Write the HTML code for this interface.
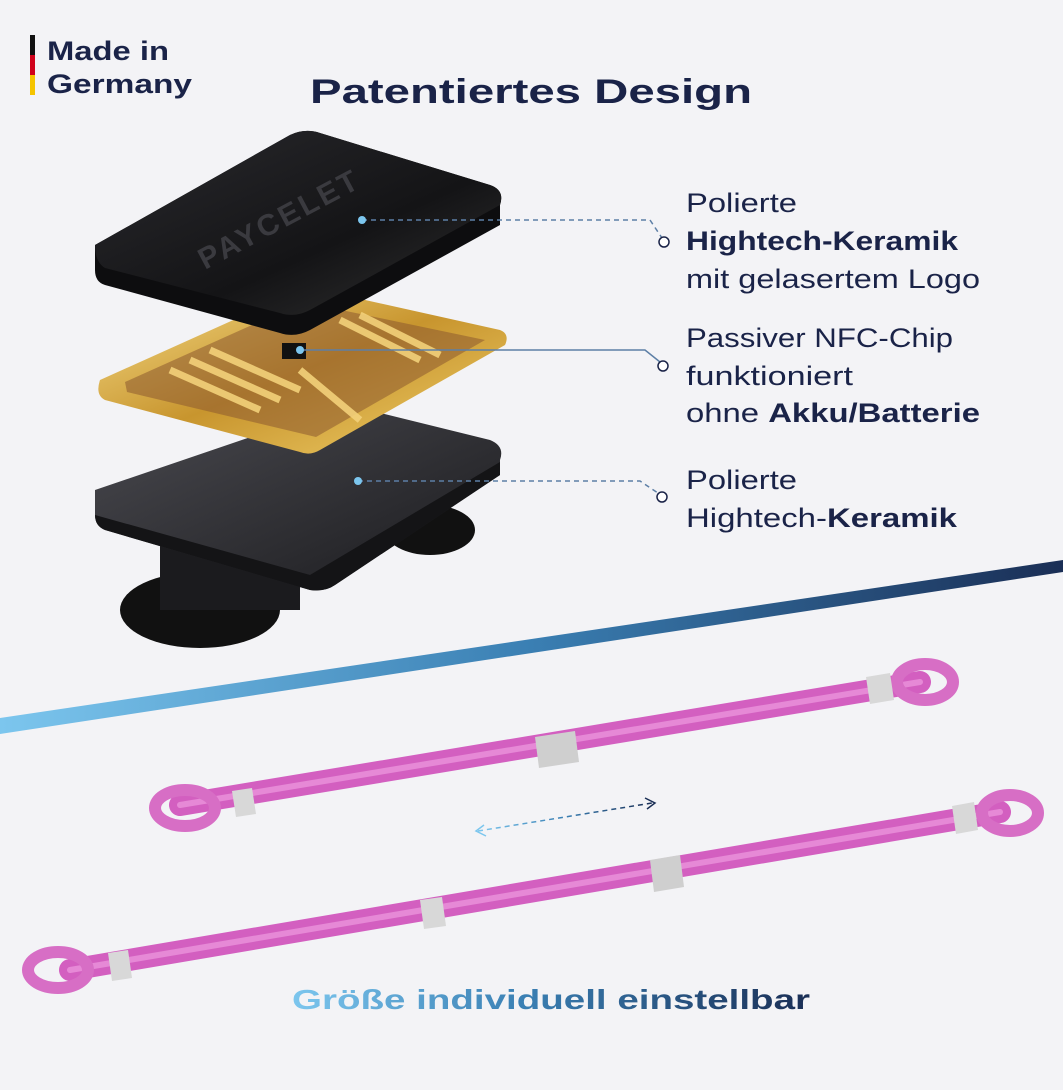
<!DOCTYPE html>
<html><head><meta charset="utf-8"><style>
html,body{margin:0;padding:0;background:#f3f3f6;}
svg{display:block;}
text{font-family:"Liberation Sans","DejaVu Sans",sans-serif;}
</style></head><body>
<svg width="1063" height="1090" viewBox="0 0 1063 1090" xmlns="http://www.w3.org/2000/svg">
<defs>
<linearGradient id="dl" x1="0" y1="0" x2="1" y2="0">
<stop offset="0" stop-color="#7cc6ee"/><stop offset="0.5" stop-color="#3a7fb3"/><stop offset="1" stop-color="#1a2e55"/></linearGradient>
<linearGradient id="gold" x1="0" y1="0" x2="1" y2="1">
<stop offset="0" stop-color="#f6dd8a"/><stop offset="0.5" stop-color="#c8952e"/><stop offset="1" stop-color="#f0cf6a"/></linearGradient>
<linearGradient id="top" x1="0" y1="0" x2="1" y2="1">
<stop offset="0" stop-color="#2a2a2e"/><stop offset="0.6" stop-color="#141416"/><stop offset="1" stop-color="#333"/></linearGradient>
<linearGradient id="bot" x1="0" y1="0" x2="1" y2="1">
<stop offset="0" stop-color="#4a4a50"/><stop offset="1" stop-color="#1a1a1d"/></linearGradient>
<linearGradient id="tx" x1="0" y1="0" x2="1" y2="0">
<stop offset="0" stop-color="#7cc6ee"/><stop offset="0.45" stop-color="#3a7fb3"/><stop offset="1" stop-color="#1a2e55"/></linearGradient>
</defs>
<rect width="1063" height="1090" fill="#f3f3f6"/>
<polygon points="0,718 1063,560 1063,572 0,734" fill="url(#dl)"/>

<rect x="30" y="35" width="5" height="20" fill="#111"/>
<rect x="30" y="55" width="5" height="20" fill="#d0021b"/>
<rect x="30" y="75" width="5" height="20" fill="#f5c400"/>
<text x="47" y="60" font-size="27" font-weight="bold" fill="#1a2348" textLength="122" lengthAdjust="spacingAndGlyphs">Made in</text>
<text x="47" y="93" font-size="27" font-weight="bold" fill="#1a2348" textLength="145" lengthAdjust="spacingAndGlyphs">Germany</text>

<text x="310" y="103" font-size="34" font-weight="bold" fill="#1a2348" textLength="442" lengthAdjust="spacingAndGlyphs">Patentiertes Design</text>

<ellipse cx="200" cy="610" rx="80" ry="38" fill="#111"/>
<ellipse cx="430" cy="530" rx="45" ry="25" fill="#111"/>
<rect x="160" y="520" width="140" height="90" fill="#1b1b1e"/>
<path d="M95,490 L330,410 Q345,405 360,408 L490,440 Q505,446 500,460 L500,475 L335,585 Q325,592 310,590 L105,530 Q95,526 95,515 Z" fill="url(#bot)"/>
<path d="M95,515 L310,575 L500,462 L500,475 L335,585 Q325,592 310,590 L105,530 Q95,526 95,515 Z" fill="#141416"/>

<path d="M100,380 L300,290 Q310,286 320,290 L500,330 Q510,334 505,345 L320,450 Q310,456 300,452 L105,400 Q95,395 100,380 Z" fill="url(#gold)"/>
<path d="M125,382 L303,302 L485,340 L316,437 L127,392 Z" fill="#8c5a30" opacity="0.55"/>
<g stroke="#f3d17a" stroke-width="7" opacity="0.9">
<line x1="170" y1="370" x2="260" y2="410"/><line x1="190" y1="360" x2="280" y2="400"/>
<line x1="210" y1="350" x2="300" y2="390"/><line x1="340" y1="320" x2="420" y2="360"/>
<line x1="360" y1="315" x2="440" y2="355"/><line x1="300" y1="370" x2="360" y2="420"/>
</g>
<rect x="282" y="343" width="24" height="16" fill="#111"/>

<path d="M95,245 L290,135 Q305,128 320,133 L490,185 Q505,190 500,205 L500,225 L310,330 Q295,338 280,333 L105,285 Q95,282 95,270 Z" fill="#0d0d0f"/>
<path d="M95,245 L290,135 Q305,128 320,133 L490,185 Q505,190 500,205 L310,310 Q295,318 280,313 L105,268 Q95,262 95,245 Z" fill="url(#top)"/>
<text x="205" y="270" font-size="30" font-weight="bold" fill="#3a3a3f" transform="rotate(-28 205 270)" letter-spacing="3">PAYCELET</text>

<g fill="none" stroke="#5d7fa6" stroke-width="1.5">
<path d="M362,220 L650,220 L662,238" stroke-dasharray="5,4"/>
<path d="M300,350 L645,350 L660,362"/>
<path d="M358,481 L640,481 L658,493" stroke-dasharray="5,4"/>
</g>
<circle cx="362" cy="220" r="4" fill="#7cc6ee"/>
<circle cx="300" cy="350" r="4" fill="#7cc6ee"/>
<circle cx="358" cy="481" r="4" fill="#7cc6ee"/>
<g fill="#fff" stroke="#1a2348" stroke-width="1.5">
<circle cx="664" cy="242" r="5"/><circle cx="663" cy="366" r="5"/><circle cx="662" cy="497" r="5"/>
</g>

<g font-size="27" fill="#1a2348" lengthAdjust="spacingAndGlyphs">
<text x="686" y="212" textLength="111" lengthAdjust="spacingAndGlyphs">Polierte</text>
<text x="686" y="250" font-weight="bold" textLength="272" lengthAdjust="spacingAndGlyphs">Hightech-Keramik</text>
<text x="686" y="288" textLength="294" lengthAdjust="spacingAndGlyphs">mit gelasertem Logo</text>
<text x="686" y="347" textLength="267" lengthAdjust="spacingAndGlyphs">Passiver NFC-Chip</text>
<text x="686" y="385" textLength="167" lengthAdjust="spacingAndGlyphs">funktioniert</text>
<text x="686" y="422" textLength="294" lengthAdjust="spacingAndGlyphs">ohne <tspan font-weight="bold">Akku/Batterie</tspan></text>
<text x="686" y="489" textLength="111" lengthAdjust="spacingAndGlyphs">Polierte</text>
<text x="686" y="527" textLength="271" lengthAdjust="spacingAndGlyphs">Hightech-<tspan font-weight="bold">Keramik</tspan></text>
</g>

<g fill="none" stroke-linecap="round">
<path d="M180,805 L920,682" stroke="#d35fc0" stroke-width="22"/>
<path d="M180,805 L920,682" stroke="#e689d6" stroke-width="6"/>
<ellipse cx="185" cy="808" rx="30" ry="18" stroke="#d76ec5" stroke-width="12"/>
<ellipse cx="925" cy="682" rx="28" ry="18" stroke="#d76ec5" stroke-width="12"/>
</g>
<polygon points="232,791 252,788 256,814 236,817" fill="#d8d8d8"/>
<polygon points="535,737 575,731 579,762 539,768" fill="#cfcfcf"/>
<polygon points="866,677 890,673 894,700 870,704" fill="#d8d8d8"/>

<g fill="none" stroke-linecap="round">
<path d="M70,970 L1000,812" stroke="#d35fc0" stroke-width="22"/>
<path d="M70,970 L1000,812" stroke="#e689d6" stroke-width="6"/>
<ellipse cx="58" cy="970" rx="30" ry="18" stroke="#d76ec5" stroke-width="12"/>
<ellipse cx="1010" cy="813" rx="28" ry="18" stroke="#d76ec5" stroke-width="12"/>
</g>
<polygon points="108,953 128,950 132,978 112,981" fill="#d8d8d8"/>
<polygon points="420,900 442,897 446,926 424,929" fill="#d8d8d8"/>
<polygon points="650,860 680,855 684,887 654,892" fill="#cfcfcf"/>
<polygon points="952,806 974,802 978,830 956,834" fill="#d8d8d8"/>

<line x1="478" y1="831" x2="652" y2="803" stroke="url(#dl)" stroke-width="1.5" stroke-dasharray="5,4"/>
<path d="M484,825 L476,831 L486,836" fill="none" stroke="#7cc6ee" stroke-width="1.5"/>
<path d="M645,798 L655,803 L647,809" fill="none" stroke="#1a2e55" stroke-width="1.5"/>

<text x="292" y="1009" font-size="28" font-weight="bold" fill="url(#tx)" textLength="518" lengthAdjust="spacingAndGlyphs">Größe individuell einstellbar</text>
</svg>
</body></html>
